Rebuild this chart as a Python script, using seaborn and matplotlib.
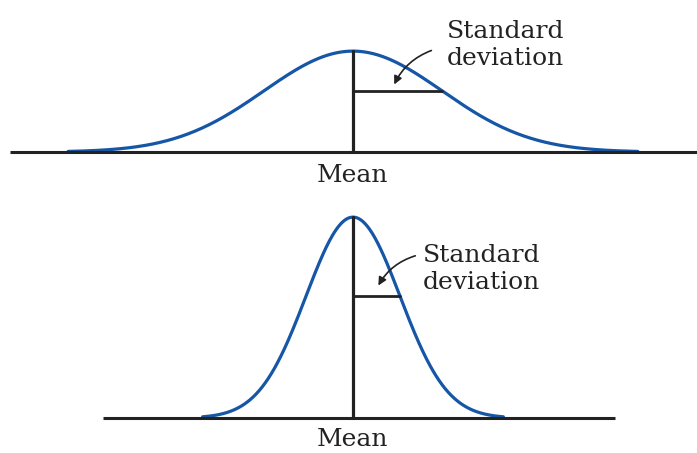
import numpy as np
import pandas as pd
import matplotlib.pyplot as plt
import seaborn as sns

# datos: dos curvas normales (unidades = desvio de la curva superior)
curve_names = ['wide', 'narrow']
means = [0.0, 0.0]
sds = [1.0, 0.528]
baseline_left = [-3.85, -2.81]
baseline_right = [3.87, 2.94]
x_limits = (-3.966, 3.865)
y_tops = [0.601, 0.820]
label_mean = 'Mean'
label_sd = 'Standard\ndeviation'

BLUE = '#1656a6'
INK = '#222222'

sns.set_style('white')
plt.rcParams['font.family'] = ['DejaVu Serif']

fig = plt.figure(figsize=(6.97, 4.53), dpi=100)
ax_top = fig.add_axes([0, 301 / 453, 1, 152 / 453])
ax_bot = fig.add_axes([0, 35 / 453, 1, 218 / 453])

# posiciones de texto / flechas (no son datos)
text_cfg = {
    'wide': dict(tip=(0.45, 0.257), tail=(0.91, 0.405), txt=(1.056, 0.423), mean_y=-0.091),
    'narrow': dict(tip=(0.27, 0.489), tail=(0.73, 0.613), txt=(0.787, 0.560), mean_y=-0.079),
}

for ax, name, mu, sd, xl, xr, ytop in zip([ax_top, ax_bot], curve_names, means, sds,
                                          baseline_left, baseline_right, y_tops):
    x = np.linspace(mu - 3.2 * sd, mu + 3.2 * sd, 400)
    dens = np.exp(-0.5 * ((x - mu) / sd) ** 2) / (sd * np.sqrt(2 * np.pi))
    df = pd.DataFrame({'x': x, 'y': dens})
    sns.lineplot(data=df, x='x', y='y', ax=ax, color=BLUE, lw=2.3, zorder=2)

    peak = 1 / (sd * np.sqrt(2 * np.pi))
    h_sd = peak * np.exp(-0.5)
    ax.plot([xl, xr], [0, 0], color=INK, lw=2.2, solid_capstyle='butt',
            zorder=4, clip_on=False)
    ax.plot([mu, mu], [0, peak], color=INK, lw=2.3, zorder=3, clip_on=False)
    ax.plot([mu, mu + sd], [h_sd, h_sd], color=INK, lw=2.0, zorder=3)

    c = text_cfg[name]
    ax.annotate('', xy=c['tip'], xytext=c['tail'],
                arrowprops=dict(arrowstyle='-|>', color=INK, lw=1.2,
                                connectionstyle='arc3,rad=0.22', mutation_scale=12))
    ax.text(c['txt'][0], c['txt'][1], label_sd, fontsize=18, color=INK,
            ha='left', va='center', linespacing=1.2)
    ax.text(mu, c['mean_y'], label_mean, fontsize=18, color=INK,
            ha='center', va='center', clip_on=False)

    ax.set_xlim(*x_limits)
    ax.set_ylim(0, ytop)
    ax.axis('off')

fig.savefig('out.png', dpi=100, facecolor='white')
